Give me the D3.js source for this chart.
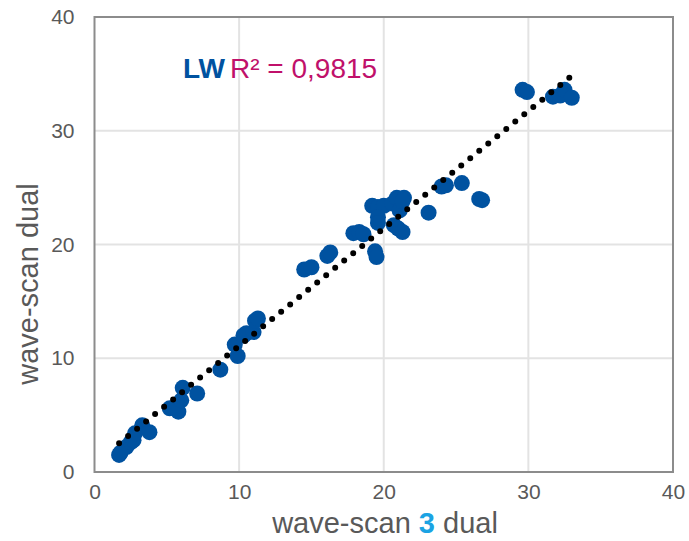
<!DOCTYPE html>
<html><head><meta charset="utf-8">
<script src="https://cdn.jsdelivr.net/npm/d3@7"></script>
<style>body{margin:0;background:#fff}svg{display:block}text{font-family:"Liberation Sans",Arial,sans-serif}</style>
</head><body>
<svg id="c" width="689" height="541"></svg>
<script>
const xVals = [1.7,1.8,2.2,2.5,2.7,2.8,3.3,3.8,5.2,5.8,6.0,6.1,7.1,8.7,9.7,9.9,10.3,10.5,11.0,11.1,11.3,14.5,15.0,16.1,16.3,17.9,18.3,18.6,19.2,19.6,20.0,19.6,19.6,19.4,19.5,20.6,20.9,21.4,21.1,21.3,20.7,21.0,21.3,23.1,24.0,24.3,25.4,26.6,26.8,29.6,29.9,31.7,32.2,32.5,33.0];
const yVals = [1.5,1.7,2.2,2.6,2.8,3.4,4.1,3.5,5.6,5.3,6.3,7.4,6.9,9.0,11.2,10.2,12.0,12.2,12.3,13.3,13.5,17.8,18.0,19.0,19.3,21.0,21.1,20.9,23.4,23.3,23.4,22.4,21.9,19.4,18.9,23.6,24.1,24.1,23.0,23.8,21.7,21.4,21.1,22.8,25.1,25.2,25.4,24.0,23.9,33.6,33.4,33.0,33.1,33.6,32.9];
const xTicks = [0,10,20,30,40];
const yTicks = [0,10,20,30,40];
const seriesLabel = "LW";
const r2Label = "R² = 0,9815";

const svg = d3.select("#c");
const x = d3.scaleLinear().domain([0,40]).range([94.5,673]);
const y = d3.scaleLinear().domain([0,40]).range([472,17]);

// gridlines
svg.append("g").selectAll("line").data(xTicks.slice(1,-1)).join("line")
  .attr("x1",d=>x(d)).attr("x2",d=>x(d)).attr("y1",y(0)).attr("y2",y(40))
  .attr("stroke","#e3e3e3").attr("stroke-width",2);
svg.append("g").selectAll("line").data(yTicks.slice(1,-1)).join("line")
  .attr("y1",d=>y(d)).attr("y2",d=>y(d)).attr("x1",x(0)).attr("x2",x(40))
  .attr("stroke","#e3e3e3").attr("stroke-width",2);

// frame
svg.append("rect").attr("x",x(0)).attr("y",y(40)).attr("width",x(40)-x(0)).attr("height",y(0)-y(40))
  .attr("fill","none").attr("stroke","#8c8c8c").attr("stroke-width",2);

// axes labels via d3 axes
const xa = svg.append("g").attr("transform",`translate(0,${y(0)})`)
  .call(d3.axisBottom(x).tickValues(xTicks).tickSize(0).tickPadding(12).tickFormat(d3.format("d")));
const ya = svg.append("g").attr("transform",`translate(${x(0)},0)`)
  .call(d3.axisLeft(y).tickValues(yTicks).tickSize(0).tickPadding(20).tickFormat(d3.format("d")));
[xa,ya].forEach(g=>{g.select(".domain").remove();
  g.selectAll("text").attr("font-size",21).attr("fill","#595959").attr("font-family","'Liberation Sans',Arial,sans-serif");});

// points
svg.append("g").selectAll("circle").data(xVals.map((v,i)=>[v,yVals[i]])).join("circle")
  .attr("cx",d=>x(d[0])).attr("cy",d=>y(d[1])).attr("r",8).attr("fill","#0052a0");

// linear trendline (least squares from data)
const n = xVals.length, mx = d3.mean(xVals), my = d3.mean(yVals);
let sxy=0,sxx=0; for(let i=0;i<n;i++){sxy+=(xVals[i]-mx)*(yVals[i]-my);sxx+=(xVals[i]-mx)**2;}
const slope = sxy/sxx, icpt = my-slope*mx;
const x0 = d3.min(xVals), x1 = d3.max(xVals);
svg.append("line").attr("x1",x(x0)).attr("y1",y(icpt+slope*x0)).attr("x2",x(x1)).attr("y2",y(icpt+slope*x1))
  .attr("stroke","#000").attr("stroke-width",6).attr("stroke-linecap","round").attr("stroke-dasharray","0 11.6");

// annotation
const ann = svg.append("text").attr("x",183).attr("y",78).attr("font-size",28);
ann.append("tspan").text(seriesLabel).attr("font-weight","bold").attr("fill","#0052a0");
ann.append("tspan").text(r2Label).attr("dx",5).attr("fill","#c0106a");

// axis titles
const xt = svg.append("text").attr("x",385).attr("y",533).attr("text-anchor","middle").attr("font-size",29).attr("fill","#595959");
xt.append("tspan").text("wave-scan ");
xt.append("tspan").text("3").attr("font-weight","bold").attr("fill","#1ba3e3");
xt.append("tspan").text(" dual");
svg.append("text").attr("transform","translate(38,284) rotate(-90)").attr("text-anchor","middle")
  .attr("font-size",29).attr("fill","#595959").text("wave-scan dual");
</script>
</body></html>
